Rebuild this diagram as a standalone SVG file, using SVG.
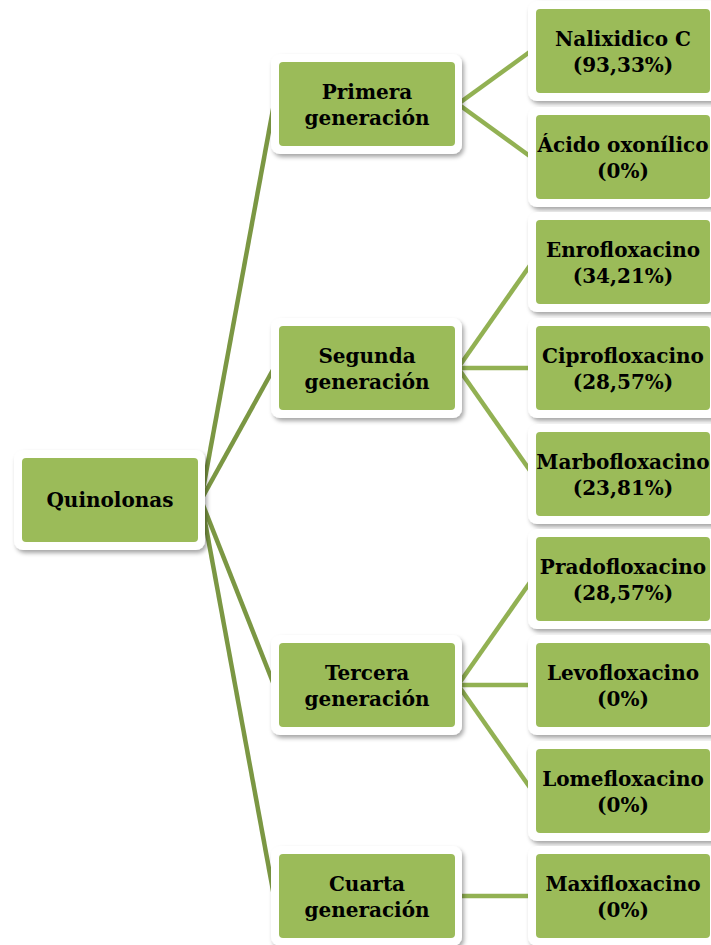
<svg xmlns="http://www.w3.org/2000/svg" width="711" height="945" viewBox="0 0 711 945">
  <defs>
    <filter id="shadow" x="-10%" y="-10%" width="125%" height="130%">
      <feDropShadow dx="2" dy="3" stdDeviation="2" flood-color="#000" flood-opacity="0.35"/>
    </filter>
    <style>
      .frame { fill: #ffffff; filter: url(#shadow); }
      .box { fill: #9bbb59; }
      .label { font-family: "DejaVu Serif", "Liberation Serif", serif; font-weight: bold; font-size: 20px; fill: #000; text-anchor: middle; }
      .root-link { stroke: #7b9743; stroke-width: 4.5; fill: none; stroke-linecap: butt; }
      .link { stroke: #92b153; stroke-width: 4.5; fill: none; stroke-linecap: butt; }
    </style>
  </defs>
  <rect width="711" height="945" fill="#ffffff"/>

  <!-- connectors -->
  <g id="connectors">
    <line class="root-link" x1="201" y1="500" x2="274" y2="104"/>
    <line class="root-link" x1="201" y1="500" x2="274" y2="368"/>
    <line class="root-link" x1="201" y1="500" x2="274" y2="685"/>
    <line class="root-link" x1="201" y1="500" x2="274" y2="896"/>

    <line class="link" x1="458" y1="104" x2="531" y2="51"/>
    <line class="link" x1="458" y1="104" x2="531" y2="157"/>

    <line class="link" x1="458" y1="368" x2="531" y2="264"/>
    <line class="link" x1="458" y1="368" x2="531" y2="368"/>
    <line class="link" x1="458" y1="368" x2="531" y2="472"/>

    <line class="link" x1="458" y1="685" x2="531" y2="581"/>
    <line class="link" x1="458" y1="685" x2="531" y2="685"/>
    <line class="link" x1="458" y1="685" x2="531" y2="789"/>

    <line class="link" x1="458" y1="896" x2="531" y2="896"/>
  </g>

  <!-- root -->
  <g id="quinolonas">
    <rect class="frame" x="14" y="450" width="191" height="100" rx="9"/>
    <rect class="box" x="22" y="458" width="176" height="84" rx="4"/>
    <text class="label" x="110" y="507">Quinolonas</text>
  </g>

  <!-- generations -->
  <g id="primera">
    <rect class="frame" x="271" y="54" width="191" height="100" rx="9"/>
    <rect class="box" x="279" y="62" width="176" height="84" rx="4"/>
    <text class="label" x="367" y="99">Primera</text>
    <text class="label" x="367" y="125">generación</text>
  </g>
  <g id="segunda">
    <rect class="frame" x="271" y="318" width="191" height="100" rx="9"/>
    <rect class="box" x="279" y="326" width="176" height="84" rx="4"/>
    <text class="label" x="367" y="363">Segunda</text>
    <text class="label" x="367" y="389">generación</text>
  </g>
  <g id="tercera">
    <rect class="frame" x="271" y="635" width="191" height="100" rx="9"/>
    <rect class="box" x="279" y="643" width="176" height="84" rx="4"/>
    <text class="label" x="367" y="680">Tercera</text>
    <text class="label" x="367" y="706">generación</text>
  </g>
  <g id="cuarta">
    <rect class="frame" x="271" y="846" width="191" height="100" rx="9"/>
    <rect class="box" x="279" y="854" width="176" height="84" rx="4"/>
    <text class="label" x="367" y="891">Cuarta</text>
    <text class="label" x="367" y="917">generación</text>
  </g>

  <!-- compounds -->
  <g id="nalixidico">
    <rect class="frame" x="528" y="1" width="195" height="100" rx="9"/>
    <rect class="box" x="536" y="9" width="174" height="84" rx="4"/>
    <text class="label" x="623" y="46">Nalixidico C</text>
    <text class="label" x="623" y="72">(93,33%)</text>
  </g>
  <g id="oxonilico">
    <rect class="frame" x="528" y="107" width="195" height="100" rx="9"/>
    <rect class="box" x="536" y="115" width="174" height="84" rx="4"/>
    <text class="label" x="623" y="152">Ácido oxonílico</text>
    <text class="label" x="623" y="178">(0%)</text>
  </g>
  <g id="enrofloxacino">
    <rect class="frame" x="528" y="212" width="195" height="100" rx="9"/>
    <rect class="box" x="536" y="220" width="174" height="84" rx="4"/>
    <text class="label" x="623" y="257">Enrofloxacino</text>
    <text class="label" x="623" y="283">(34,21%)</text>
  </g>
  <g id="ciprofloxacino">
    <rect class="frame" x="528" y="318" width="195" height="100" rx="9"/>
    <rect class="box" x="536" y="326" width="174" height="84" rx="4"/>
    <text class="label" x="623" y="363">Ciprofloxacino</text>
    <text class="label" x="623" y="389">(28,57%)</text>
  </g>
  <g id="marbofloxacino">
    <rect class="frame" x="528" y="424" width="195" height="100" rx="9"/>
    <rect class="box" x="536" y="432" width="174" height="84" rx="4"/>
    <text class="label" x="623" y="469">Marbofloxacino</text>
    <text class="label" x="623" y="495">(23,81%)</text>
  </g>
  <g id="pradofloxacino">
    <rect class="frame" x="528" y="529" width="195" height="100" rx="9"/>
    <rect class="box" x="536" y="537" width="174" height="84" rx="4"/>
    <text class="label" x="623" y="574">Pradofloxacino</text>
    <text class="label" x="623" y="600">(28,57%)</text>
  </g>
  <g id="levofloxacino">
    <rect class="frame" x="528" y="635" width="195" height="100" rx="9"/>
    <rect class="box" x="536" y="643" width="174" height="84" rx="4"/>
    <text class="label" x="623" y="680">Levofloxacino</text>
    <text class="label" x="623" y="706">(0%)</text>
  </g>
  <g id="lomefloxacino">
    <rect class="frame" x="528" y="741" width="195" height="100" rx="9"/>
    <rect class="box" x="536" y="749" width="174" height="84" rx="4"/>
    <text class="label" x="623" y="786">Lomefloxacino</text>
    <text class="label" x="623" y="812">(0%)</text>
  </g>
  <g id="maxifloxacino">
    <rect class="frame" x="528" y="846" width="195" height="100" rx="9"/>
    <rect class="box" x="536" y="854" width="174" height="84" rx="4"/>
    <text class="label" x="623" y="891">Maxifloxacino</text>
    <text class="label" x="623" y="917">(0%)</text>
  </g>
</svg>
